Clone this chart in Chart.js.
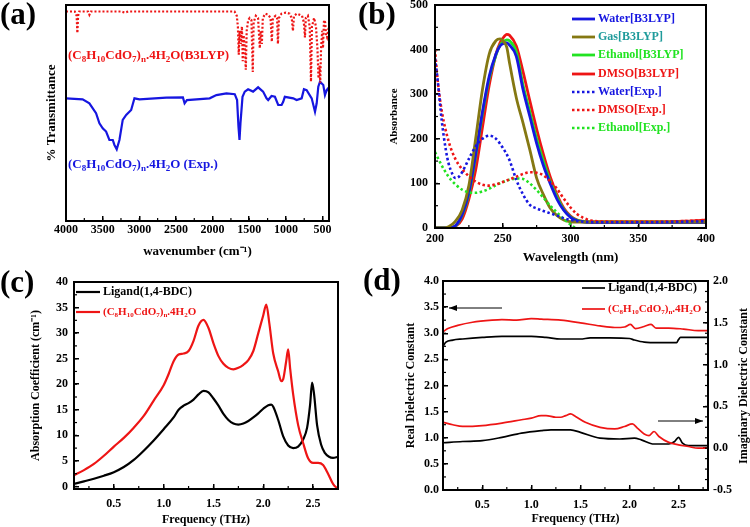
<!DOCTYPE html>
<html lang="en">
<head>
<meta charset="UTF-8">
<title>Cd coordination polymer spectra</title>
<script src="https://cdn.jsdelivr.net/npm/chart.js"></script>
<style>
  body { margin: 0; background: #fff; }
  #page { position: relative; width: 750px; height: 527px; overflow: hidden; }
  .panel { position: absolute; }
  .panel canvas { display: block; }
  .tag { position: absolute; font: bold 31px "Liberation Serif", "Times New Roman", serif; line-height: 1; color: #000; }
</style>
</head>
<body>
<div id="page">
  <div class="panel" style="left:0;top:0"><canvas id="chA" width="375" height="262"></canvas></div>
  <div class="panel" style="left:375px;top:0"><canvas id="chB" width="375" height="272"></canvas></div>
  <div class="panel" style="left:0;top:262px"><canvas id="chC" width="375" height="265"></canvas></div>
  <div class="panel" style="left:375px;top:262px"><canvas id="chD" width="375" height="265"></canvas></div>
  <div class="tag" style="left:0;top:-2px">(a)</div>
  <div class="tag" style="left:358px;top:-2px">(b)</div>
  <div class="tag" style="left:0;top:266px">(c)</div>
  <div class="tag" style="left:363px;top:264px">(d)</div>
</div>

<script>
// ---- (a) FTIR, wavenumber (cm-1) vs % transmittance (arbitrary offset)
const irExpWn = [4000,3773,3681,3590,3544,3499,3453,3408,3362,3339,3308,3271,3226,3179,3111,3066,2998,2632,2405,2382,2350,2040,1948,1811,1698,1666,1647,1633,1620,1592,1561,1516,1448,1379,1311,1264,1242,1196,1150,1105,1059,1037,1015,900,854,785,754,717,648,603,580,558,535,490,467,444,422,412];
const irExpT = [56.8,56.3,54.5,49.9,45.2,42.9,41.4,37.5,37.5,35.2,33.2,37.5,46.8,49.1,51.4,56.8,56.3,57.1,57.2,54.5,56,56.8,58.3,59.1,58.7,56,43.7,37.5,45.2,57.5,59.9,61,59.9,61.9,59.9,56.8,56,57.9,57.5,53.7,53.7,55.2,57.5,56.8,56,56.8,61,60.6,56.8,50.6,54.5,62.2,64.5,63,58.3,60.6,61.5,60];
const irCalcWn = [4000,3880,3855,3845,3835,3820,3700,3681,3660,3250,3200,3150,1700,1670,1655,1643,1632,1615,1600,1589,1578,1560,1547,1535,1515,1495,1470,1452,1440,1410,1380,1356,1345,1328,1315,1280,1240,1210,1192,1178,1140,1120,1109,1095,1060,1000,950,920,904,890,850,780,755,740,728,700,675,658,645,615,590,570,555,540,532,520,505,494,480,465,452,439,425,412];
const irCalcT = [97,97,95,87,95,97,97,95.5,97,97,96.5,97,97,95,90,77,88,82,90,74,86,80,70,88,93,94,93,69,92,95,94,80,88,82,94,96,95.5,94,83,94,95,94,82,94,96,96.5,96,94,88,95,96,95,92,85,94,95,90,64.5,90,94,90,80,66,72,64,80,88,80,93,92,86,85,88,90];
const irTicks = [4000,3500,3000,2500,2000,1500,1000,500];

// ---- (b) UV-Vis, wavelength (nm) vs absorbance
const wlCalc = [200,205,210,215,220,225,230,235,240,245,248,250,253,255,260,265,270,275,280,285,290,295,300,305,310,320,330,340,350,360,370,380,390,400];
const waterCalc = [0,0,0,5,30,80,165,260,340,390,408,413,415,410,385,310,250,190,140,100,65,40,24,16,13,12,12,12,12,12,12,12,12,12];
const gasCalc = [0,0,3,15,40,95,200,310,390,420,424,420,405,370,292,235,175,112,75,45,28,18,14,13,13,13,13,13,13,13,13,13,13,13];
const ethanolCalc = [0,0,0,4,28,75,160,255,335,388,410,417,422,420,395,320,260,200,150,105,70,42,25,17,14,13,13,13,13,13,13,13,13,13];
const dmsoCalc = [0,0,0,3,20,65,130,225,320,390,415,425,434,432,408,350,285,222,165,115,75,45,27,18,15,14,14,14,14,14,14,15,16,18];
const wlWaterExp = [200,202,205,208,210,213,215,218,220,225,230,235,240,245,250,255,260,265,270,275,280,285,290,295,300,310,320,340,360,380,400];
const waterExp = [380,330,240,175,145,120,112,116,125,155,183,200,207,200,180,152,108,75,52,44,38,33,28,22,18,14,13,13,13,14,15];
const wlDmsoExp = [200,202,205,210,215,220,225,230,235,240,245,250,255,260,265,270,275,280,285,290,295,300,305,310,315,320,340,360,380,400];
const dmsoExp = [400,330,262,195,155,132,116,104,97,95,98,103,109,115,121,125,124,118,105,88,66,46,31,22,17,15,14,14,15,18];
const wlEthanolExp = [200,205,210,215,220,225,230,235,240,245,250,255,260,265,270,275,280,285,290,295,300,305,308];
const ethanolExp = [170,140,115,98,86,80,79,82,88,96,103,108,111,110,100,85,68,50,35,20,8,-3,-8];
const uvTicksX = [200,250,300,350,400];
const uvTicksY = [0,100,200,300,400,500];

// ---- (c) THz absorption coefficient
const thzLig = [0.1,0.2,0.3,0.4,0.5,0.6,0.7,0.8,0.9,1.0,1.1,1.15,1.2,1.25,1.3,1.35,1.4,1.45,1.5,1.55,1.6,1.65,1.7,1.75,1.8,1.85,1.9,1.95,2.0,2.05,2.08,2.1,2.15,2.2,2.25,2.3,2.35,2.4,2.44,2.47,2.49,2.51,2.54,2.58,2.62,2.66,2.7,2.75];
const absLig = [0.5,1.0,1.5,2.1,2.8,3.8,5.2,7.0,9.0,11.2,13.5,15.0,15.8,16.3,17.0,18.0,18.7,18.4,17.2,15.8,14.2,13.0,12.3,12.1,12.3,12.8,13.5,14.3,15.2,15.9,16.0,15.6,13.0,9.8,8.0,7.5,7.8,9.2,11.5,16,20.3,18,12,8.2,6.5,5.8,5.6,5.8];
const thzCd = [0.1,0.2,0.3,0.4,0.5,0.6,0.7,0.8,0.9,1.0,1.05,1.1,1.15,1.2,1.25,1.3,1.35,1.4,1.45,1.5,1.55,1.6,1.65,1.7,1.75,1.8,1.85,1.9,1.95,2.0,2.03,2.06,2.1,2.15,2.18,2.2,2.23,2.25,2.27,2.3,2.35,2.4,2.45,2.5,2.55,2.6,2.65,2.7,2.75];
const absCd = [2.2,3.2,4.4,6.0,7.8,9.5,11.5,13.8,16.8,19.8,22,24.5,25.8,26,26.5,28.5,31.5,32.6,31,28,25.5,24,23.2,22.9,23.2,23.8,24.7,26.5,30,33.5,35.6,32,26,22.5,20.6,21,24.5,26.8,23,18,12,8.5,5.5,4.6,4.6,4.2,2.5,0.5,-0.5];
const thzTicks = [0.5,1.0,1.5,2.0,2.5];
const absTicks = [0,5,10,15,20,25,30,35,40];

// ---- (d) dielectric constants
const thzLigRe = [0.1,0.13,0.2,0.3,0.5,0.7,1.0,1.15,1.3,1.5,1.6,1.8,2.0,2.05,2.15,2.3,2.48,2.5,2.52,2.6,2.8];
const reLig = [2.75,2.83,2.87,2.89,2.92,2.94,2.94,2.92,2.89,2.89,2.91,2.91,2.9,2.87,2.83,2.82,2.82,2.88,2.92,2.92,2.92];
const thzCdRe = [0.1,0.15,0.25,0.4,0.6,0.7,0.85,1.0,1.1,1.3,1.5,1.7,1.85,1.95,2.01,2.06,2.15,2.22,2.27,2.4,2.55,2.7,2.8];
const reCd = [3.03,3.09,3.15,3.21,3.25,3.26,3.25,3.28,3.27,3.25,3.2,3.14,3.11,3.12,3.17,3.09,3.13,3.17,3.1,3.1,3.08,3.05,3.05];
const thzLigIm = [0.1,0.3,0.5,0.7,0.9,1.1,1.2,1.4,1.5,1.7,1.9,2.05,2.12,2.25,2.4,2.46,2.5,2.54,2.6,2.8];
const imLig = [0.065,0.08,0.09,0.13,0.18,0.21,0.22,0.22,0.19,0.12,0.11,0.12,0.1,0.05,0.05,0.08,0.13,0.06,0.03,0.03];
const thzCdIm = [0.1,0.2,0.3,0.5,0.7,0.9,1.0,1.1,1.15,1.25,1.3,1.35,1.4,1.45,1.55,1.7,1.85,1.95,2.03,2.08,2.15,2.2,2.25,2.3,2.4,2.5,2.6,2.7,2.8];
const imCd = [0.31,0.28,0.26,0.27,0.3,0.34,0.36,0.39,0.39,0.37,0.37,0.39,0.41,0.38,0.31,0.25,0.23,0.26,0.29,0.24,0.17,0.15,0.2,0.14,0.07,0.04,0.02,0.0,0.0];
const reTicks = [0,0.5,1.0,1.5,2.0,2.5,3.0,3.5,4.0];
const imTicks = [-0.5,0,0.5,1.0,1.5,2.0];

const red = '#ee1515', blue = '#1616e0', olive = '#857812', green = '#22e322', teal = '#1f9b9b';
const serif = '"Liberation Serif", "Times New Roman", serif';
// formula with subscripts: odd entries are subscripts
const formula = ['(C', '8', 'H', '10', 'CdO', '7', ')', 'n', '.4H', '2', 'O'];

Chart.defaults.font.family = serif;
Chart.defaults.font.weight = 'bold';
Chart.defaults.font.size = 12;
Chart.defaults.color = '#000';
Chart.defaults.animation = false;
Chart.defaults.plugins.legend.display = false;
Chart.defaults.plugins.tooltip.enabled = false;
Chart.defaults.elements.point.radius = 0;

const pts = (xs, ys) => xs.map((x, i) => ({ x: x, y: ys[i] }));
const one = v => Number(v).toFixed(1);

function axis(o) {
  return {
    type: 'linear', position: o.pos, min: o.min, max: o.max, reverse: !!o.reverse,
    border: { color: '#000', width: 2 },
    grid: { drawOnChartArea: false, drawTicks: !o.hide, tickLength: -5, color: '#000', lineWidth: 1.5 },
    ticks: { display: !o.hide, padding: o.pad || 0, callback: o.fmt || (v => String(v)) },
    title: o.title ? { display: true, text: o.title, font: { size: o.tsize || 12, weight: 'bold' }, padding: o.tpad } : { display: false },
    afterBuildTicks: s => { if (o.ticks) s.ticks = o.ticks.map(v => ({ value: v })); },
    afterFit: s => {
      if (o.pos === 'bottom') s.height = o.size; else s.width = o.size;
      s.paddingLeft = s.paddingRight = s.paddingTop = s.paddingBottom = 0;
    }
  };
}

function richText(ctx, x, y, parts, size, color) {
  const big = 'bold ' + size + 'px ' + serif;
  const small = 'bold ' + Math.round(size * 0.66) + 'px ' + serif;
  ctx.fillStyle = color;
  ctx.textAlign = 'left';
  ctx.textBaseline = 'middle';
  let cx = x;
  parts.forEach((p, i) => {
    ctx.font = i % 2 ? small : big;
    ctx.fillText(p, cx, i % 2 ? y + size * 0.32 : y);
    cx += ctx.measureText(p).width;
  });
}

// frame, minor ticks, legends, labels, arrows
const deco = {
  id: 'deco',
  afterDraw(chart, args, o) {
    const ctx = chart.ctx, a = chart.chartArea;
    ctx.save();
    ctx.strokeStyle = '#000';
    ctx.lineWidth = 1.2;
    Object.entries(o.minor || {}).forEach(([id, step]) => {
      const s = chart.scales[id];
      const lo = Math.min(s.min, s.max), hi = Math.max(s.min, s.max);
      for (let k = Math.ceil(lo / step - 1e-9); k * step <= hi + 1e-9; k++) {
        const p = s.getPixelForValue(k * step);
        ctx.beginPath();
        if (s.position === 'bottom') { ctx.moveTo(p, a.bottom); ctx.lineTo(p, a.bottom - 3); }
        else if (s.position === 'left') { ctx.moveTo(a.left, p); ctx.lineTo(a.left + 3, p); }
        else { ctx.moveTo(a.right, p); ctx.lineTo(a.right - 3, p); }
        ctx.stroke();
      }
    });
    ctx.lineWidth = 2;
    ctx.strokeRect(a.left, a.top, a.right - a.left, a.bottom - a.top);

    (o.legend || []).forEach(it => {
      const ds = chart.data.datasets[it.ds];
      ctx.save();
      ctx.strokeStyle = ds.borderColor;
      ctx.lineWidth = ds.borderWidth;
      ctx.setLineDash(ds.borderDash || []);
      ctx.beginPath();
      ctx.moveTo(it.x1, it.y);
      ctx.lineTo(it.x2, it.y);
      ctx.stroke();
      ctx.restore();
      richText(ctx, it.x2 + 3, it.y, Array.isArray(it.text) ? it.text : [it.text], it.size || 12, it.color);
    });

    (o.texts || []).forEach(t => {
      if (t.rot) {
        ctx.save();
        ctx.translate(t.x, t.y);
        ctx.rotate(t.rot);
        ctx.font = 'bold ' + t.size + 'px ' + serif;
        ctx.fillStyle = t.color;
        ctx.textAlign = 'center';
        ctx.textBaseline = 'middle';
        ctx.fillText(t.text, 0, 0);
        ctx.restore();
      } else {
        richText(ctx, t.x, t.y, t.text, t.size, t.color);
      }
    });

    (o.arrows || []).forEach(r => {
      const ang = Math.atan2(r.y2 - r.y1, r.x2 - r.x1);
      ctx.strokeStyle = '#000';
      ctx.fillStyle = '#000';
      ctx.lineWidth = 1;
      ctx.beginPath();
      ctx.moveTo(r.x1, r.y1);
      ctx.lineTo(r.x2, r.y2);
      ctx.stroke();
      ctx.beginPath();
      ctx.moveTo(r.x2, r.y2);
      ctx.lineTo(r.x2 - 8 * Math.cos(ang) + 3 * Math.sin(ang), r.y2 - 8 * Math.sin(ang) - 3 * Math.cos(ang));
      ctx.lineTo(r.x2 - 8 * Math.cos(ang) - 3 * Math.sin(ang), r.y2 - 8 * Math.sin(ang) + 3 * Math.cos(ang));
      ctx.closePath();
      ctx.fill();
    });
    ctx.restore();
  }
};
Chart.register(deco);

// (a)
new Chart(document.getElementById('chA'), {
  type: 'line',
  data: {
    datasets: [
      { data: pts(irCalcWn, irCalcT), borderColor: red, borderWidth: 2.2, borderDash: [2, 2], tension: 0 },
      { data: pts(irExpWn, irExpT), borderColor: blue, borderWidth: 2.2, tension: 0 }
    ]
  },
  options: {
    responsive: false,
    layout: { padding: { left: 0, top: 5, right: 46, bottom: 0 }, autoPadding: false },
    scales: {
      x: axis({ pos: 'bottom', min: 412, max: 4000, reverse: true, ticks: irTicks, size: 41, pad: 7,
                title: 'wavenumber (cm\u207B\u00B9)', tsize: 13, tpad: { top: 0, bottom: 3 } }),
      y: axis({ pos: 'left', min: 0, max: 100, hide: true, size: 66,
                title: '% Transmittance', tsize: 13, tpad: { top: 44, bottom: 0 } })
    },
    plugins: {
      deco: {
        minor: { x: 250 },
        texts: [
          { text: formula.concat(['', '(B3LYP)']), x: 68, y: 56, size: 13, color: red },
          { text: formula.concat(['', ' (Exp.)']), x: 68, y: 165, size: 13, color: blue }
        ]
      }
    }
  }
});

// (b)
const uvLegend = [
  { ds: 5, text: 'Water[B3LYP]', color: blue },
  { ds: 4, text: 'Gas[B3LYP]', color: teal },
  { ds: 6, text: 'Ethanol[B3LYP]', color: green },
  { ds: 7, text: 'DMSO[B3LYP]', color: red },
  { ds: 0, text: 'Water[Exp.]', color: blue },
  { ds: 1, text: 'DMSO[Exp.]', color: red },
  { ds: 2, text: 'Ethanol[Exp.]', color: green }
];
const uvRows = [19, 37, 55, 74, 92, 110, 128];
new Chart(document.getElementById('chB'), {
  type: 'line',
  data: {
    datasets: [
      { data: pts(wlWaterExp, waterExp), borderColor: blue, borderWidth: 2.6, borderDash: [2.5, 2.5], cubicInterpolationMode: 'monotone' },
      { data: pts(wlDmsoExp, dmsoExp), borderColor: red, borderWidth: 2.6, borderDash: [2.5, 2.5], cubicInterpolationMode: 'monotone' },
      { data: pts(wlEthanolExp, ethanolExp), borderColor: green, borderWidth: 2.6, borderDash: [2.5, 2.5], cubicInterpolationMode: 'monotone' },
      { data: [], borderColor: '#000', borderWidth: 0 },
      { data: pts(wlCalc, gasCalc), borderColor: olive, borderWidth: 2.8, cubicInterpolationMode: 'monotone' },
      { data: pts(wlCalc, waterCalc), borderColor: blue, borderWidth: 2.8, cubicInterpolationMode: 'monotone' },
      { data: pts(wlCalc, ethanolCalc), borderColor: green, borderWidth: 2.8, cubicInterpolationMode: 'monotone' },
      { data: pts(wlCalc, dmsoCalc), borderColor: red, borderWidth: 2.8, cubicInterpolationMode: 'monotone' }
    ]
  },
  options: {
    responsive: false,
    layout: { padding: { left: 0, top: 5, right: 44, bottom: 0 }, autoPadding: false },
    scales: {
      x: axis({ pos: 'bottom', min: 200, max: 400, ticks: uvTicksX, size: 44, pad: 9,
                title: 'Wavelength (nm)', tsize: 13, tpad: { top: 0, bottom: 7 } }),
      y: axis({ pos: 'left', min: 0, max: 500, ticks: uvTicksY, size: 60, pad: 12,
                title: 'Absorbance', tsize: 11, tpad: { top: 13, bottom: 0 } })
    },
    plugins: {
      deco: {
        minor: { x: 25, y: 50 },
        legend: uvLegend.map((it, i) => Object.assign({ x1: 197, x2: 220, y: uvRows[i], size: 12 }, it))
      }
    }
  }
});

// (c)
new Chart(document.getElementById('chC'), {
  type: 'line',
  data: {
    datasets: [
      { data: pts(thzCd, absCd), borderColor: red, borderWidth: 2.2, cubicInterpolationMode: 'monotone' },
      { data: pts(thzLig, absLig), borderColor: '#000', borderWidth: 2.2, cubicInterpolationMode: 'monotone' }
    ]
  },
  options: {
    responsive: false,
    layout: { padding: { left: 0, top: 20, right: 37, bottom: 0 }, autoPadding: false },
    scales: {
      x: axis({ pos: 'bottom', min: 0.1, max: 2.75, ticks: thzTicks, fmt: one, size: 38, pad: 13,
                title: 'Frequency (THz)', tsize: 12, tpad: { top: 0, bottom: 0 } }),
      y: axis({ pos: 'left', min: -0.5, max: 40, ticks: absTicks, size: 74, pad: 11,
                title: 'Absorption Coefficient (cm\u207B\u00B9)', tsize: 12, tpad: { top: 29, bottom: 0 } })
    },
    plugins: {
      deco: {
        minor: { x: 0.25, y: 2.5 },
        legend: [
          { ds: 1, x1: 76, x2: 100, y: 30, text: 'Ligand(1,4-BDC)', color: '#000', size: 12 },
          { ds: 0, x1: 76, x2: 100, y: 50, text: formula, color: red, size: 11 }
        ]
      }
    }
  }
});

// (d)
new Chart(document.getElementById('chD'), {
  type: 'line',
  data: {
    datasets: [
      { data: pts(thzCdRe, reCd), borderColor: red, borderWidth: 1.7, yAxisID: 'y', cubicInterpolationMode: 'monotone' },
      { data: pts(thzLigRe, reLig), borderColor: '#000', borderWidth: 1.7, yAxisID: 'y', cubicInterpolationMode: 'monotone' },
      { data: pts(thzCdIm, imCd), borderColor: red, borderWidth: 1.7, yAxisID: 'y1', cubicInterpolationMode: 'monotone' },
      { data: pts(thzLigIm, imLig), borderColor: '#000', borderWidth: 1.7, yAxisID: 'y1', cubicInterpolationMode: 'monotone' }
    ]
  },
  options: {
    responsive: false,
    layout: { padding: { left: 0, top: 19, right: 0, bottom: 0 }, autoPadding: false },
    scales: {
      x: axis({ pos: 'bottom', min: 0.1, max: 2.8, ticks: thzTicks, fmt: one, size: 37, pad: 13,
                title: 'Frequency (THz)', tsize: 12, tpad: { top: 0, bottom: 1 } }),
      y: axis({ pos: 'left', min: 0, max: 4, ticks: reTicks, fmt: one, size: 68, pad: 9,
                title: 'Real Dielectric Constant', tsize: 12, tpad: { top: 29, bottom: 0 } }),
      y1: axis({ pos: 'right', min: -0.5, max: 2, ticks: imTicks, fmt: one, size: 42, pad: 10 })
    },
    plugins: {
      deco: {
        minor: { x: 0.25, y: 0.25, y1: 0.125 },
        legend: [
          { ds: 1, x1: 207, x2: 230, y: 26, text: 'Ligand(1,4-BDC)', color: '#000', size: 12 },
          { ds: 0, x1: 207, x2: 230, y: 47, text: formula, color: red, size: 11 }
        ],
        texts: [
          { text: 'Imaginary Dielectric Constant', x: 369, y: 124, rot: -Math.PI / 2, size: 12, color: '#000' }
        ],
        arrows: [
          { x1: 127, y1: 46, x2: 74, y2: 46 },
          { x1: 283, y1: 159, x2: 328, y2: 159 }
        ]
      }
    }
  }
});
</script>
</body>
</html>
